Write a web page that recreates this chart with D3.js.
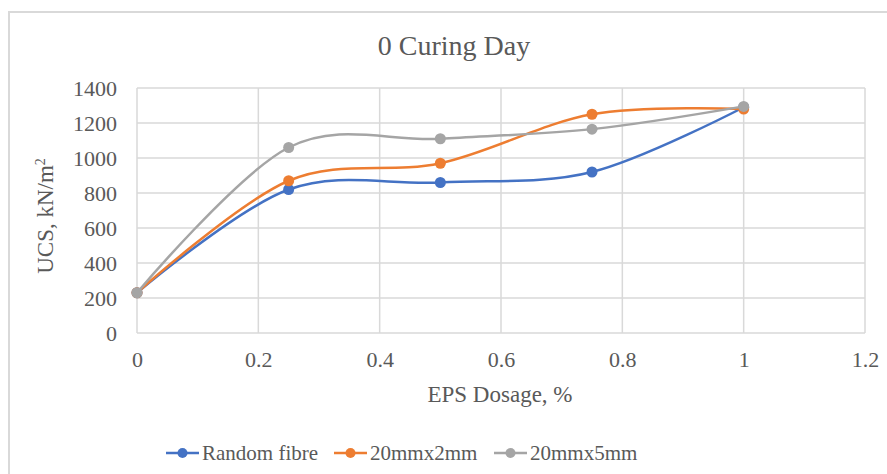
<!DOCTYPE html>
<html>
<head>
<meta charset="utf-8">
<script src="https://cdn.jsdelivr.net/npm/d3@7"></script>
<style>
  body { margin: 0; background: #fff; }
  svg { display: block; font-family: "Liberation Serif", "Times New Roman", serif; }
  svg text { font-family: "Liberation Serif", "Times New Roman", serif; }
</style>
</head>
<body>
<svg id="chart"></svg>
<script>
// chart values
const dosage = [0, 0.25, 0.5, 0.75, 1];
const randomFibre = [230, 820, 860, 920, 1290];
const mm20x2 = [230, 870, 970, 1250, 1280];
const mm20x5 = [230, 1060, 1110, 1165, 1295];
const seriesNames = ["Random fibre", "20mmx2mm", "20mmx5mm"];
const xTicks = [0, 0.2, 0.4, 0.6, 0.8, 1, 1.2];
const yTicks = [0, 200, 400, 600, 800, 1000, 1200, 1400];

const W = 887, H = 474;
const colors = ["#4472C4", "#ED7D31", "#A5A5A5"];
const textColor = "#595959", gridColor = "#d9d9d9";

const svg = d3.select("#chart").attr("width", W).attr("height", H);

// outer chart border (runs off the right/bottom edge in the reference)
svg.append("rect").attr("x", 9).attr("y", 12).attr("width", W).attr("height", H)
  .attr("fill", "none").attr("stroke", gridColor).attr("stroke-width", 2);

const plot = { left: 137, right: 865, top: 88, bottom: 333 };
const x = d3.scaleLinear().domain([0, 1.2]).range([plot.left, plot.right]);
const y = d3.scaleLinear().domain([0, 1400]).range([plot.bottom, plot.top]);

// gridlines
const grid = svg.append("g");
grid.selectAll("line.h").data(yTicks).enter().append("line")
  .attr("x1", plot.left).attr("x2", plot.right)
  .attr("y1", d => y(d)).attr("y2", d => y(d))
  .attr("stroke", gridColor).attr("stroke-width", 1.5);
grid.selectAll("line.v").data(xTicks).enter().append("line")
  .attr("y1", plot.top).attr("y2", plot.bottom)
  .attr("x1", d => x(d)).attr("x2", d => x(d))
  .attr("stroke", gridColor).attr("stroke-width", 1.5);

// axes (labels only, Excel style)
const xAxis = svg.append("g").attr("transform", `translate(0,${plot.bottom})`)
  .call(d3.axisBottom(x).tickValues(xTicks).tickSize(0).tickPadding(18).tickFormat(d => String(d)));
const yAxis = svg.append("g").attr("transform", `translate(${plot.left},0)`)
  .call(d3.axisLeft(y).tickValues(yTicks).tickSize(0).tickPadding(20).tickFormat(d => String(d)));
[xAxis, yAxis].forEach(a => {
  a.attr("font-family", "Liberation Serif").attr("font-size", 22);
  a.select(".domain").remove();
  a.selectAll("text").attr("fill", textColor);
});

// title and axis titles
svg.append("text").attr("x", 454).attr("y", 55).attr("text-anchor", "middle")
  .attr("fill", textColor).style("font-size", "28px").text("0 Curing Day");
svg.append("text").attr("x", 500).attr("y", 402).attr("text-anchor", "middle")
  .attr("fill", textColor).style("font-size", "23px").text("EPS Dosage, %");
const yt = svg.append("text").attr("transform", "translate(53,216) rotate(-90)")
  .attr("text-anchor", "middle").attr("fill", textColor).style("font-size", "23px");
yt.append("tspan").text("UCS, kN/m");
yt.append("tspan").attr("dy", -8).style("font-size", "14px").text("2");

// series
const allSeries = [randomFibre, mm20x2, mm20x5];
const line = d3.line().x(d => x(d[0])).y(d => y(d[1])).curve(d3.curveCatmullRom.alpha(0));
allSeries.forEach((vals, i) => {
  const pts = dosage.map((d, j) => [d, vals[j]]);
  const g = svg.append("g");
  g.append("path").datum(pts).attr("d", line).attr("fill", "none")
    .attr("stroke", colors[i]).attr("stroke-width", 2.5);
  g.selectAll("circle").data(pts).enter().append("circle")
    .attr("cx", d => x(d[0])).attr("cy", d => y(d[1])).attr("r", 5.5)
    .attr("fill", colors[i]);
});

// legend
const legendX = [166, 334, 494];
const legend = svg.append("g").attr("transform", "translate(0,453)");
seriesNames.forEach((name, i) => {
  const item = legend.append("g").attr("transform", `translate(${legendX[i]},0)`);
  item.append("line").attr("x1", 0).attr("x2", 33).attr("y1", 0).attr("y2", 0)
    .attr("stroke", colors[i]).attr("stroke-width", 2.5);
  item.append("circle").attr("cx", 16.5).attr("cy", 0).attr("r", 5).attr("fill", colors[i]);
  item.append("text").attr("x", 36).attr("y", 7).attr("fill", textColor)
    .style("font-size", "21px").text(name);
});
</script>
</body>
</html>
